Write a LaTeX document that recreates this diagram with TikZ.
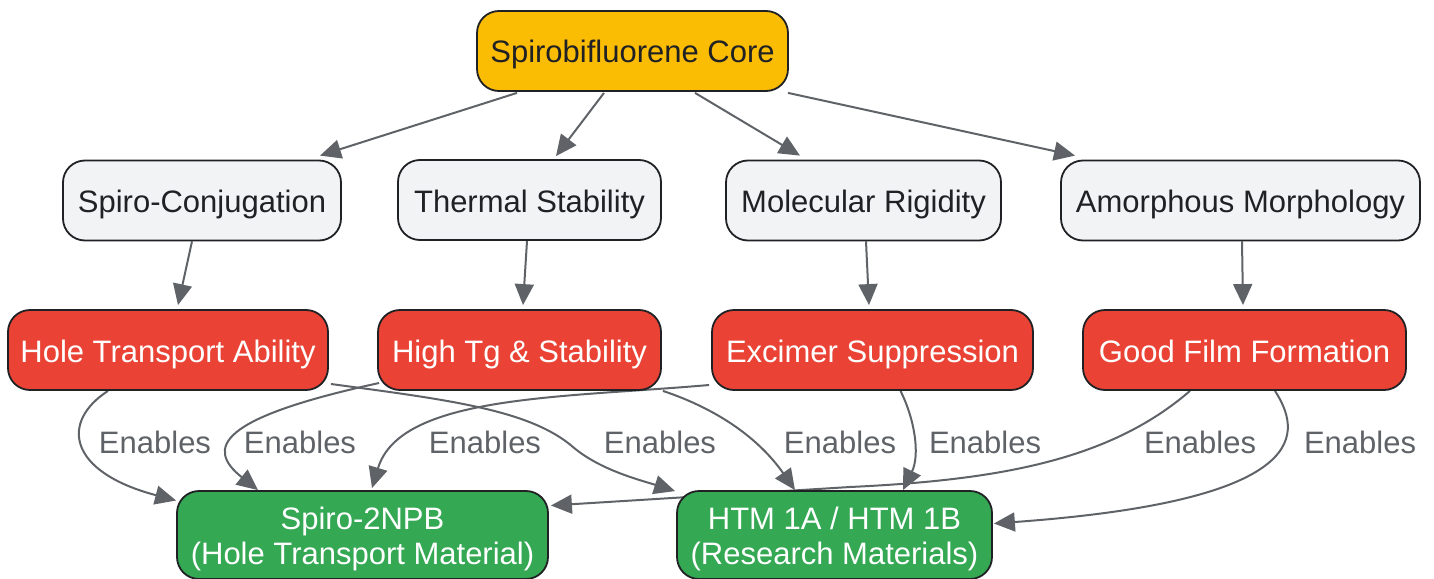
\documentclass[tikz,border=0pt]{standalone}
\usepackage{fontspec}
\setmainfont{Liberation Sans}
\usetikzlibrary{arrows.meta,calc,backgrounds}
\definecolor{coreY}{HTML}{FBBC04}
\definecolor{grayF}{HTML}{F1F3F4}
\definecolor{redF}{HTML}{EA4335}
\definecolor{greenF}{HTML}{34A853}
\definecolor{edgeC}{HTML}{5F6368}
\definecolor{inkC}{HTML}{202124}
\tikzset{
  box/.style={draw=inkC, line width=1.8pt, rounded corners=22pt, minimum height=80pt,
    inner sep=0pt, font=\fontsize{31}{35}\selectfont, align=center},
  onebox/.style={box, text height=24pt, text depth=0pt},
  corebox/.style={onebox, fill=coreY, text=inkC},
  graybox/.style={onebox, fill=grayF, text=inkC},
  redbox/.style={onebox, fill=redF, text=white},
  greenbox/.style={box, fill=greenF, text=white, minimum height=88pt},
  edge/.style={draw=edgeC, line width=2pt, -{Triangle[length=21pt,width=19pt]}},
  lbl/.style={text=edgeC, font=\fontsize{31}{35}\selectfont, inner sep=0pt}
}
\newcommand{\twolines}[2]{\raisebox{-5pt}[\height][\depth]{\begin{tabular}{@{}c@{}}#1\\#2\end{tabular}}}
\begin{document}
\begin{tikzpicture}[x=1pt,y=-1pt]
\useasboundingbox (0,0) rectangle (1434,578);
% nodes
\node[corebox, minimum width=311pt] (core) at (632.5,51) {Spirobifluorene Core};
\node[graybox, minimum width=278pt] (sc) at (202,200.5) {Spiro-Conjugation};
\node[graybox, minimum width=263pt] (ts) at (529.5,200) {Thermal Stability};
\node[graybox, minimum width=275pt] (mr) at (863.5,200.5) {Molecular Rigidity};
\node[graybox, minimum width=359pt] (am) at (1240.5,200.5) {Amorphous Morphology};
\node[redbox, minimum width=320pt] (hta) at (168,350) {Hole Transport Ability};
\node[redbox, minimum width=283pt] (htg) at (519.5,350) {High Tg \& Stability};
\node[redbox, minimum width=321pt] (ex) at (872.5,350) {Excimer Suppression};
\node[redbox, minimum width=323pt] (gf) at (1244.5,350) {Good Film Formation};
\node[greenbox, minimum width=371pt] (sp) at (362.5,535) {\twolines{Spiro-2NPB}{(Hole Transport Material)}};
\node[greenbox, minimum width=315pt] (htm) at (834.5,535) {\twolines{HTM 1A / HTM 1B}{(Research Materials)}};
% labels
\foreach \x/\n in {155/l1,300/l2,485/l3,660/l4,840/l5,985/l6,1200/l7,1360/l8}
  \node[lbl] (\n) at (\x,442) {Enables};
\begin{pgfonlayer}{background}
% top edges
\draw[edge] ($(core.south)+(-115.5,1)$) -- ($(sc.north)+(118,-4)$);
\draw[edge] ($(core.south)+(-28.5,1)$) -- ($(ts.north)+(26.5,-3)$);
\draw[edge] ($(core.south)+(62.5,1)$) -- ($(mr.north)+(-63.5,-4)$);
\draw[edge] ($(core.south)+(155.5,1)$) -- ($(am.north)+(-165.5,-4)$);
% middle edges
\draw[edge] ($(sc.south)+(-10,0)$) -- ($(hta.north)+(10,-4)$);
\draw[edge] ($(ts.south)+(-2.5,0)$) -- ($(htg.north)+(3.5,-4)$);
\draw[edge] ($(mr.south)+(2.5,0)$) -- ($(ex.north)+(-3.5,-4)$);
\draw[edge] ($(am.south)+(1.5,0)$) -- ($(gf.north)+(-1.5,-4)$);
% bottom edges
\draw[edge] ($(hta.south)+(-60,0)$) .. controls (60,422) and (68,472) .. ($(sp.west)+(0,-34.5)$);
\draw[edge] ($(htg.west)+(2,33)$) .. controls (218,418) and (205,448) .. ($(sp.north)+(-104.5,0)$);
\draw[edge] ($(ex.west)+(-2,35)$) .. controls (560,398) and (400,395) .. ($(sp.north)+(9.5,-2)$);
\draw[edge] ($(hta.east)+(2,34)$) .. controls (450,400) and (530,410) .. (573,447) .. controls (600,470) and (640,480) .. ($(htm.north west)+(-1,1)$);
\draw[edge] ($(htg.south east)+(1,0)$) .. controls (720,410) and (760,440) .. ($(htm.north)+(-39.5,0)$);
\draw[edge] ($(ex.south)+(28,0)$) .. controls (915,420) and (920,455) .. ($(htm.north)+(68.5,0)$);
\draw[edge] ($(gf.south)+(-54.5,0)$) .. controls (1110,460) and (1000,480) .. (850,487) -- ($(sp.east)+(2,-29.5)$);
\draw[edge] ($(gf.south)+(30.5,0)$) .. controls (1300,430) and (1320,500) .. ($(htm.east)+(1,-11.5)$);
\end{pgfonlayer}
\end{tikzpicture}
\end{document}
